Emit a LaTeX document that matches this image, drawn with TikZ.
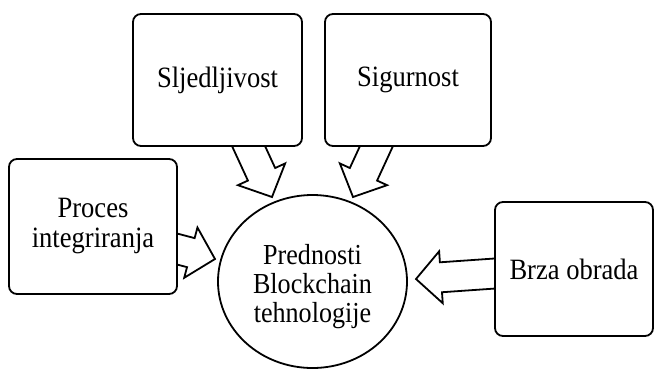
\documentclass[tikz,border=0pt]{standalone}
\usepackage{fontspec}
\setmainfont{Liberation Serif}[FakeStretch=0.9]
\usetikzlibrary{shapes.geometric,calc,backgrounds}
\tikzset{
  box/.style={draw, line width=1.8pt, rounded corners=8pt, fill=white, align=center,
    inner sep=0pt, font=\fontsize{29.5}{30}\selectfont},
  hub/.style={draw, ellipse, line width=1.8pt, fill=white, align=center, inner sep=0pt},
  hubtext/.style={align=center, inner sep=0pt, font=\fontsize{29}{29}\selectfont},
  blk/.style={draw, line width=1.8pt, line join=miter, fill=white}
}
\newcommand\blockarrow[2]{%
  \coordinate (bS) at ($(#1)!-14pt!(#2)$);
  \coordinate (bH) at ($(#2)!25pt!(#1)$);
  \draw[blk] ($(bS)!15pt!90:(#2)$) -- ($(bH)!15pt!90:(#2)$) -- ($(bH)!26pt!90:(#2)$)
    -- (#2) -- ($(bH)!26pt!-90:(#2)$) -- ($(bH)!15pt!-90:(#2)$) -- ($(bS)!15pt!-90:(#2)$);
}
\begin{document}
\begin{tikzpicture}[x=1pt,y=-1pt]
\useasboundingbox (0,0) rectangle (655,370);
\node[box, minimum width=169pt, minimum height=132pt] (slj) at (217.5,80) {Sljedljivost};
\node[box, minimum width=166pt, minimum height=132pt] (sig) at (408,80) {Sigurnost};
\node[box, minimum width=168pt, minimum height=135pt] (pro) at (93,226.5) {Proces\\integriranja};
\node[box, minimum width=158pt, minimum height=134pt] (brz) at (574,269) {Brza obrada};
\node[hub, minimum width=189pt, minimum height=173pt] (cen) at (312.5,281.5) {};
\node[hubtext] (cenlbl) at (312.5,287) {Prednosti\\Blockchain\\tehnologije};
\coordinate (a1s) at (248.5,146);
\coordinate (a1t) at (272,197);
\coordinate (a2s) at (376.5,146);
\coordinate (a2t) at (353,197);
\coordinate (a3s) at (177,249);
\coordinate (a3t) at (215,259);
\coordinate (a4s) at (495,273.5);
\coordinate (a4t) at (416,279);
\begin{scope}[on background layer]
\blockarrow{a1s}{a1t}
\blockarrow{a2s}{a2t}
\blockarrow{a3s}{a3t}
\blockarrow{a4s}{a4t}
\end{scope}
\end{tikzpicture}
\end{document}
